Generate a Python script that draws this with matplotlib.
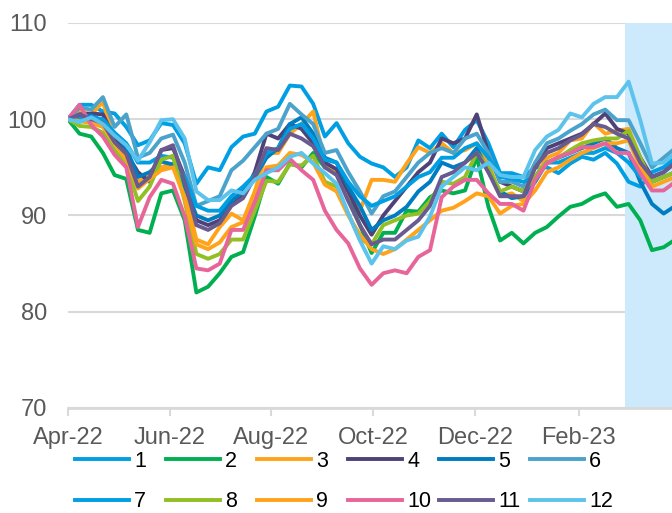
import matplotlib.pyplot as plt
import matplotlib.dates as mdates
import pandas as pd

plt.rcParams['font.family'] = ['Liberation Sans', 'DejaVu Sans']

# weekly index values, start of April 2022 = 100
dates = pd.date_range('2022-04-01', periods=53, freq='7D')

s1 = [100, 101.5, 101.5, 100.8, 100.6, 99.2, 97.3, 97.8, 99.6, 99.4, 97.5, 93.3, 95.0, 94.7, 97.1, 98.2, 98.5, 100.8,
      101.3, 103.5, 103.4, 101.6, 98.2, 99.6, 97.5, 96.1, 95.4, 95.0, 94.0, 95.0, 97.8, 97.0, 98.5, 97.1, 98.9, 99.9,
      97.5, 94.4, 94.4, 94.0, 95.0, 95.0, 94.4, 95.4, 96.1, 95.8, 96.5, 95.4, 93.5, 93.0, 94.5, 95.0, 96.0]
s2 = [100, 98.5, 98.2, 96.5, 94.2, 93.8, 88.5, 88.2, 92.3, 92.6, 89.5, 82.0, 82.6, 84.0, 85.7, 86.2, 89.9, 94.0,
      93.3, 95.4, 95.0, 96.5, 95.0, 94.7, 91.9, 89.0, 86.1, 88.2, 88.2, 90.5, 90.4, 91.9, 92.6, 92.3, 92.6, 96.1,
      90.9, 87.4, 88.2, 87.1, 88.2, 88.8, 89.9, 90.9, 91.2, 91.9, 92.3, 90.9, 91.2, 89.5, 86.4, 86.7, 87.5]
s3 = [100, 100.8, 100.5, 101.8, 97.8, 96.0, 93.5, 94.2, 95.0, 95.4, 92.5, 87.5, 87.0, 88.8, 90.2, 89.5, 92.5, 96.5,
      96.5, 98.5, 99.5, 100.8, 95.5, 94.5, 92.2, 90.5, 93.7, 93.7, 93.5, 95.4, 97.1, 96.5, 97.5, 96.5, 96.8, 97.5,
      95.5, 92.0, 92.3, 91.5, 94.0, 96.0, 96.5, 97.8, 98.0, 99.6, 98.5, 98.8, 99.0, 96.0, 93.5, 94.0, 94.5]
s4 = [100, 100.5, 100.6, 100.5, 98.0, 96.5, 94.5, 93.5, 96.8, 97.0, 94.0, 89.5, 89.0, 89.5, 91.2, 92.0, 94.5, 98.5,
      98.0, 99.5, 99.0, 97.5, 95.5, 94.8, 92.5, 90.0, 88.0, 90.0, 91.5, 93.0, 94.5, 95.5, 98.0, 97.5, 98.0, 100.5,
      96.5, 93.5, 93.0, 92.5, 95.0, 97.0, 97.5, 98.0, 98.5, 99.5, 100.6, 99.0, 98.5, 96.0, 94.0, 94.5, 95.5]
s5 = [100, 100.2, 100.4, 99.8, 98.5, 97.0, 94.0, 94.5, 95.6, 95.3, 93.0, 90.0, 89.5, 90.0, 91.5, 92.5, 94.0, 96.0,
      97.0, 99.5, 100.2, 98.5, 96.0, 95.5, 93.0, 91.0, 88.5, 89.5, 90.0, 90.9, 92.5, 93.5, 95.5, 95.0, 95.5, 97.0,
      94.5, 92.5, 91.8, 92.0, 93.5, 95.5, 96.0, 96.5, 97.0, 97.5, 98.0, 97.0, 96.5, 93.5, 91.2, 90.2, 91.0]
s6 = [100, 101.2, 101.0, 102.3, 99.2, 100.5, 96.0, 96.5, 98.0, 98.4, 95.5, 91.0, 91.5, 92.0, 94.7, 95.7, 97.1, 98.5,
      99.0, 101.6, 100.5, 99.5, 96.5, 96.8, 94.5, 92.5, 90.2, 92.0, 92.5, 94.0, 95.5, 96.5, 97.0, 96.5, 98.0, 98.5,
      96.5, 93.5, 93.5, 93.0, 95.5, 97.5, 98.0, 98.8, 99.5, 100.5, 101.0, 99.9, 99.9, 97.5, 95.0, 96.0, 97.0]
s7 = [100, 100.0, 100.2, 100.0, 98.6, 97.5, 95.5, 95.5, 96.2, 96.0, 94.0, 91.0, 90.5, 90.5, 92.0, 93.0, 94.2, 96.5,
      97.0, 99.0, 99.5, 98.0, 95.8, 95.5, 93.5, 92.0, 91.0, 91.5, 92.0, 93.0, 94.0, 94.5, 96.0, 96.0, 97.0, 97.5,
      96.0, 94.0, 93.8, 93.5, 94.0, 95.5, 95.5, 96.0, 96.5, 96.5, 97.0, 96.5, 95.5, 94.0, 93.5, 94.0, 94.5]
s8 = [100, 99.3, 99.2, 98.6, 96.8, 95.3, 91.5, 93.0, 95.8, 96.2, 91.5, 86.0, 85.5, 86.0, 87.5, 87.5, 90.5, 93.6,
      93.5, 95.3, 95.2, 96.2, 93.5, 93.0, 90.2, 87.5, 87.0, 89.0, 89.5, 90.0, 90.2, 91.5, 93.5, 93.3, 94.0, 96.5,
      95.0, 92.5, 93.0, 92.5, 94.0, 95.5, 96.0, 96.8, 97.5, 97.8, 98.0, 98.0, 98.8, 96.0, 93.5, 94.0, 94.5]
s9 = [100, 99.8, 99.6, 99.2, 97.5, 95.8, 92.8, 93.8, 94.7, 95.0, 91.8, 87.0, 86.5, 87.2, 88.8, 89.3, 91.5, 95.0,
      95.2, 96.5, 96.3, 95.5, 93.2, 92.5, 90.0, 88.0, 86.5, 86.0, 86.5, 87.5, 88.5, 89.5, 90.5, 90.8, 91.5, 92.3,
      92.0, 90.2, 91.0, 91.2, 92.6, 94.5, 95.0, 95.8, 96.5, 97.0, 97.5, 97.5, 97.8, 95.0, 93.0, 93.5, 94.0]
s10 = [100, 101.5, 99.4, 98.2, 96.3, 95.0, 88.8, 91.9, 93.7, 93.3, 89.9, 84.5, 84.3, 85.0, 88.5, 88.5, 91.4, 94.7,
       94.7, 95.9, 94.7, 93.7, 90.5, 88.5, 87.1, 84.5, 82.8, 84.0, 84.3, 84.0, 85.7, 86.4, 91.9, 93.0, 93.7, 93.7,
       92.3, 91.2, 91.2, 90.5, 93.7, 95.4, 96.1, 96.5, 97.1, 97.1, 97.5, 96.5, 96.5, 94.4, 92.6, 92.6, 93.5]
s11 = [100, 100.5, 100.0, 99.6, 97.6, 96.4, 93.0, 94.0, 96.8, 97.3, 93.5, 89.0, 88.5, 89.2, 91.0, 91.8, 94.0, 97.0,
       96.8, 98.5, 98.0, 97.2, 95.0, 94.2, 91.5, 89.0, 87.0, 87.5, 87.5, 88.5, 89.5, 91.0, 94.0, 94.5, 95.5, 96.5,
       94.5, 92.0, 92.0, 92.0, 95.0, 96.5, 97.0, 97.8, 98.4, 99.5, 99.2, 98.5, 98.0, 95.5, 94.0, 94.5, 95.5]
s12 = [100, 99.7, 100.2, 99.5, 98.3, 97.3, 95.7, 97.6, 99.9, 100.0, 98.0, 92.5, 91.6, 91.6, 92.6, 92.3, 93.7, 94.4,
       95.0, 96.1, 96.5, 95.4, 94.4, 93.3, 90.2, 87.4, 85.0, 86.8, 86.5, 87.4, 87.8, 89.9, 93.0, 94.0, 95.0, 94.7,
       95.5, 94.2, 94.0, 94.0, 96.8, 98.2, 98.9, 100.6, 100.2, 101.6, 102.3, 102.3, 103.9, 99.9, 95.4, 95.5, 96.5]

series = [s1, s2, s3, s4, s5, s6, s7, s8, s9, s10, s11, s12]
labels = ['1', '2', '3', '4', '5', '6', '7', '8', '9', '10', '11', '12']
colors = ['#009FE3', '#00B050', '#FFA31A', '#4F4278', '#007CC0', '#4BA3CB',
          '#009FE3', '#92BF23', '#FFA31A', '#E8659A', '#675B8F', '#5CC3EC']

fig = plt.figure(figsize=(6.72, 5.13), dpi=100)
ax = fig.add_axes([0.101, 0.2047, 0.899, 0.7505])

# shaded period at the end
ax.axvspan(pd.Timestamp('2023-03-01'), pd.Timestamp('2023-04-30'), color='#CCEAFB', lw=0, zorder=1)

handles = []
for i in range(len(series)):
    h, = ax.plot(dates, series[i], color=colors[i], lw=2.8, label=labels[i], zorder=2 + i * 0.01,
                 solid_joinstyle='round')
    handles.append(h)

ax.set_ylim(70, 110)
ax.set_yticks([70, 80, 90, 100, 110])
ax.set_xlim(pd.Timestamp('2022-04-01'), pd.Timestamp('2023-03-29'))
ax.set_xticks(pd.to_datetime(['2022-04-01', '2022-06-01', '2022-08-01', '2022-10-01',
                              '2022-12-01', '2023-02-01']))
ax.xaxis.set_major_formatter(mdates.DateFormatter('%b-%y'))

# grid and axis styling
ax.set_axisbelow(True)
ax.grid(axis='y', color='#D9D9D9', lw=1.5)
for side in ['top', 'right', 'left']:
    ax.spines[side].set_visible(False)
ax.spines['bottom'].set_color('#D9D9D9')
ax.spines['bottom'].set_linewidth(2)
ax.tick_params(axis='x', colors='#595959', labelsize=17, length=6, width=1.5, color='#D9D9D9', pad=8)
ax.tick_params(axis='y', colors='#595959', labelsize=17, length=0, pad=15)

# legend: one small legend per column so the columns keep equal spacing
for j in range(6):
    fig.legend(handles=[handles[j], handles[j + 6]], loc='upper left',
               bbox_to_anchor=((75 + 91 * j) / 672, 1 - 451 / 513),
               frameon=False, fontsize=15.5, handlelength=2.5, handletextpad=0.25,
               borderpad=0, borderaxespad=0, labelspacing=0.9)

fig.savefig('out.png', dpi=100)
